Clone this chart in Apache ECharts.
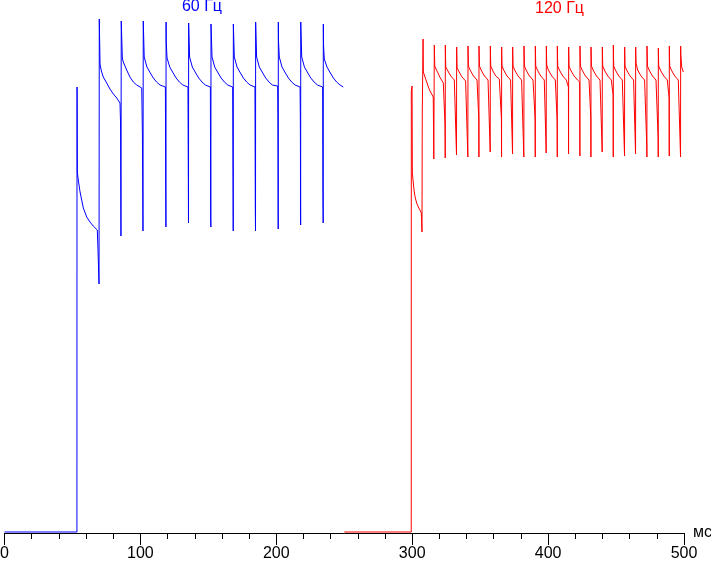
<!DOCTYPE html>
<html>
<head>
<meta charset="utf-8">
<script src="https://cdn.jsdelivr.net/npm/echarts@6/dist/echarts.min.js"></script>
<style>
html,body{margin:0;padding:0;background:#fff;}
#chart{width:711px;height:561px;}
</style>
</head>
<body>
<div id="chart"></div>
<script>
// Series labels
const seriesNames = ['60 Гц', '120 Гц'];
const xTickValues = [0, 100, 200, 300, 400, 500];
const axisUnit = 'мс';

// 60 Hz trace: [time ms, brightness (arb. units)]
const blue60Hz = [
[0,1],[53.3,1],
[53.35,446],[53.45,441],[53.6,361],[54.3,353],[55.6,341],[56.8,333],[58.0,325],[60.5,316],[62.9,311],[65.3,307],[68.3,303],[68.8,284],[69.55,249],[69.75,514],
[70.3,469],[70.8,465],[71.5,461],[72.7,456],[75.2,450],[77.6,444],[80.1,439],[82.6,435],[85.0,430],[85.4,410],[85.7,297],[85.9,512],
[86.7,475],[87.4,471],[89.9,463],[92.3,456],[94.8,451],[97.3,448],[101.0,445],[101.5,396],[101.9,302],[102.1,512],
[102.8,476],[104.8,466],[107.3,460],[109.5,455],[111.9,451],[114.4,448],[118.4,446],[118.6,350],[118.8,306],[118.9,511],[119.0,491],
[119.6,475],[121.6,466],[124.1,460],[126.3,455],[128.7,451],[131.2,448],[135.0,446],[135.4,310],[135.5,510],
[136.2,476],[138.2,466],[140.7,460],[142.9,455],[145.3,451],[147.8,448],[151.5,446],[151.7,315],[151.85,306],[151.95,509],
[152.7,476],[154.7,466],[157.2,460],[159.4,455],[161.8,451],[164.3,448],[167.9,446],[168.3,302],[168.4,509],
[169.1,476],[171.1,466],[173.6,460],[175.8,455],[178.2,451],[180.7,448],[184.3,446],[184.55,326],[184.7,302],[184.8,511],
[185.5,476],[187.5,466],[190.0,460],[192.2,455],[194.6,451],[197.1,448],[201.0,447],[201.2,415],[201.4,304],[201.5,511],[201.6,493],
[202.2,476],[204.2,466],[206.7,460],[208.9,455],[211.3,451],[213.8,448],[217.5,446],[217.7,414],[217.9,308],[218.0,511],
[218.7,476],[220.7,466],[223.2,460],[225.4,455],[227.8,451],[230.3,448],[234.1,446],[234.3,340],[234.5,310],[234.6,509],[234.75,488],
[235.3,474],[237.3,466],[239.8,460],[242.0,455],[244.4,451],[246.9,448],[249.3,446]
];

// 120 Hz trace: [time ms, brightness (arb. units)]
const red120Hz = [
[250,1],[299.3,1],
[299.35,442],[299.9,447],[300.1,360],[300.8,350],[301.5,341],[302.3,335],[303.3,330],[304.5,326],[305.7,323],[306.7,320],[307.2,301],[307.4,418],[308.0,494],[308.2,461],
[309.4,456],[310.7,451],[311.9,446],[313.1,442],[314.3,439],[315.5,436],[315.9,374],[316.28,488],
[316.6,467],[317.8,463],[319.0,460],[320.3,456],[321.6,453],[322.9,450],[324.0,448],[324.15,408],[324.3,375],[324.38,488],
[324.5,478],[324.7,466],[325.9,463],[327.1,460],[328.4,457],[329.7,455],[331.0,453],[332.4,451],[332.6,378],[332.72,486],
[333.0,465],[334.2,462],[335.4,459],[336.7,456],[338.0,454],[339.3,452],[340.7,450],[340.95,376],[341.06,487],
[341.4,467],[342.6,463],[343.8,460],[345.1,457],[346.4,455],[347.7,453],[348.8,451],[349.0,414],[349.1,376],[349.15,487],
[349.5,467],[350.7,463],[351.9,460],[353.2,457],[354.5,455],[355.8,453],[357.2,451],[357.4,381],[357.49,487],
[357.8,467],[359.0,463],[360.2,460],[361.5,457],[362.8,455],[364.1,454],[365.5,454],[365.65,414],[365.75,376],[365.83,486],[365.9,478],
[366.1,467],[367.3,463],[368.5,460],[369.8,457],[371.1,455],[372.4,453],[373.6,451],[373.85,379],[373.93,486],
[374.2,467],[375.4,463],[376.6,460],[377.9,457],[379.2,455],[380.5,453],[381.9,451],[382.15,376],[382.27,487],
[382.6,467],[383.8,463],[385.0,460],[386.3,457],[387.6,455],[388.9,453],[390.3,451],[390.45,414],[390.55,376],[390.61,487],
[390.9,467],[392.1,463],[393.3,460],[394.6,457],[395.9,455],[397.2,453],[398.4,451],[398.6,380],[398.70,487],
[399.0,468],[400.2,463],[401.4,460],[402.7,457],[404.0,455],[405.3,453],[406.5,451],[406.65,413],[406.75,376],[406.80,487],[406.9,478],
[407.1,467],[408.3,463],[409.5,460],[410.8,457],[412.1,455],[413.4,453],[414.8,451],[414.95,446],[415.05,379],[415.14,486],
[415.4,467],[416.6,463],[417.8,460],[419.1,457],[420.4,455],[421.7,453],[423.2,451],[423.4,377],[423.47,487],
[423.8,467],[425.0,463],[426.2,460],[427.5,457],[428.8,455],[430.1,453],[431.3,451],[431.45,415],[431.52,376],[431.57,486],
[431.9,467],[433.1,463],[434.3,460],[435.6,457],[436.9,455],[438.2,453],[439.6,451],[439.8,381],[439.91,486],
[440.2,467],[441.4,463],[442.6,460],[443.9,457],[445.2,455],[446.5,453],[447.7,451],[447.85,438],[447.95,376],[448.00,488],[448.1,478],
[448.3,467],[449.5,463],[450.7,460],[452.0,457],[453.3,455],[454.6,453],[456.0,451],[456.25,377],[456.34,486],
[456.6,467],[457.8,463],[459.0,460],[460.3,457],[461.6,455],[462.9,453],[464.1,451],[464.35,379],[464.44,486],
[464.7,470],[465.9,463],[467.1,460],[468.4,457],[469.7,455],[471.0,453],[472.4,451],[472.6,388],[472.7,376],[472.77,487],
[473.1,467],[474.3,463],[475.5,460],[476.8,457],[478.1,455],[479.4,453],[480.8,451],[480.95,395],[481.05,376],[481.11,485],
[481.4,467],[482.6,463],[483.8,460],[485.1,457],[486.4,455],[487.7,453],[488.9,451],[489.05,435],[489.15,377],[489.21,487],[489.3,476],
[489.5,467],[490.7,463],[491.9,460],[493.2,457],[494.5,455],[495.8,453],[497.2,451],[497.45,376],[497.55,487],[497.65,479],
[498.3,466],[499.5,461]
];

const FONT = '"Liberation Sans", Arial, sans-serif';
const chart = echarts.init(document.getElementById('chart'), null, {renderer: 'canvas'});
chart.setOption({
  animation: false,
  backgroundColor: '#ffffff',
  grid: {left: 4.5, right: 27, top: 13, bottom: 28, containLabel: false, outerBoundsMode: 'none'},
  xAxis: {
    type: 'value',
    min: xTickValues[0],
    max: xTickValues[xTickValues.length - 1],
    interval: 100,
    name: axisUnit,
    nameLocation: 'end',
    nameGap: 9,
    nameTextStyle: {fontSize: 16, fontFamily: FONT, color: '#000', padding: [14, 0, 0, 0]},
    axisLine: {show: true, lineStyle: {color: '#000', width: 1}},
    axisTick: {show: true, length: 12, lineStyle: {color: '#000', width: 1}},
    minorTick: {show: true, splitNumber: 5, length: 6, lineStyle: {color: '#000', width: 1}},
    axisLabel: {fontSize: 16, fontFamily: FONT, color: '#000', margin: 13},
    splitLine: {show: false},
    minorSplitLine: {show: false}
  },
  yAxis: {
    type: 'value', min: 0, max: 520, show: false,
    splitLine: {show: false}
  },
  graphic: [
    {type: 'text', x: 202, y: 7, style: {text: seriesNames[0], fill: '#0000ff', font: '16px ' + FONT, textAlign: 'center', textVerticalAlign: 'middle'}},
    {type: 'text', x: 559.5, y: 8.5, style: {text: seriesNames[1], fill: '#ff0000', font: '16px ' + FONT, textAlign: 'center', textVerticalAlign: 'middle'}}
  ],
  series: [
    {name: seriesNames[0], type: 'line', data: blue60Hz, showSymbol: false, symbol: 'none', clip: false,
     lineStyle: {color: '#0000ff', width: 1}, itemStyle: {color: '#0000ff'}},
    {name: seriesNames[1], type: 'line', data: red120Hz, showSymbol: false, symbol: 'none', clip: false,
     lineStyle: {color: '#ff0000', width: 1}, itemStyle: {color: '#ff0000'}}
  ]
});
</script>
</body>
</html>
